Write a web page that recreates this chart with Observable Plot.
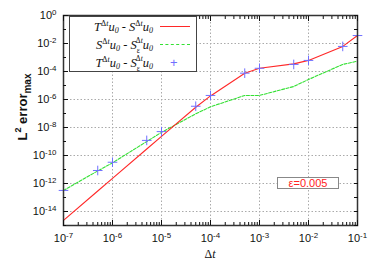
<!DOCTYPE html>
<html><head><meta charset="utf-8">
<script src="https://cdn.jsdelivr.net/npm/d3@7"></script>
<script src="https://cdn.jsdelivr.net/npm/@observablehq/plot@0.6"></script>
<style>
body{margin:0;background:#fff}
#wrap{position:relative;width:374px;height:262px;font-family:"Liberation Sans",Arial,sans-serif}
.ov{position:absolute;white-space:nowrap}
.leg{left:69px;top:16px;width:128px;height:56px;border:1px solid #444;background:#fff;box-sizing:border-box}
.row{position:absolute;right:43px;font-family:"Liberation Serif","Times New Roman",serif;font-style:italic;font-size:12.5px;line-height:12px;color:#111}
.sup{font-size:8px;position:relative;top:-5px}
.sub{font-size:8px;position:relative;top:2px}
.sup2{font-size:7.5px;position:relative;top:-6.5px;margin-left:-4px}
.sub2{font-size:7.5px;position:relative;top:3.5px;font-style:normal}
.up{font-style:normal}
.samp{position:absolute;left:90px;width:30px;height:0}
.eps{left:277px;top:177px;width:62px;height:12px;border:1px solid #888;box-sizing:border-box;background:#fff;color:#f22;font-size:11px;line-height:10px;text-align:center}
.ylab{left:22px;top:107px;transform:translate(-50%,-50%) rotate(-90deg);font-weight:bold;font-size:13px;color:#111}
.xlab{left:210px;top:254px;transform:translate(-50%,-50%);font-size:12px;color:#111;font-family:"Liberation Serif",serif}
</style>
</head><body>
<div id="wrap"></div>
<script>
// Δt values (x)
const dt = [1e-7, 5e-7, 1e-6, 5e-6, 1e-5, 5e-5, 1e-4, 5e-4, 1e-3, 5e-3, 1e-2, 5e-2, 1e-1];
// T^Δt u0 - S^Δt u0 (red)
const errTS = [2.3e-15, 2.9e-13, 2.3e-12, 2.9e-10, 2.3e-9, 2.8e-7, 1.8e-6, 7.6e-5, 1.7e-4, 3.5e-4, 6.2e-4, 6.2e-3, 3.7e-2];
// S^Δt u0 - S_ε^Δt u0 (green)
const errSS = [3.2e-13, 7.9e-12, 3.0e-11, 1.0e-9, 4.5e-9, 9.5e-8, 3.0e-7, 1.95e-6, 1.95e-6, 8.5e-6, 2.7e-5, 3.2e-4, 5.5e-4];
// T^Δt u0 - S_ε^Δt u0 (blue points)
const errTSe = [3.2e-13, 8.5e-12, 3.3e-11, 1.2e-9, 5.1e-9, 3.3e-7, 1.95e-6, 7.6e-5, 1.7e-4, 3.2e-4, 6.2e-4, 6.2e-3, 3.7e-2];

const xTicks = [1e-7, 1e-6, 1e-5, 1e-4, 1e-3, 1e-2, 1e-1];
const yTicks = [1e-14, 1e-12, 1e-10, 1e-8, 1e-6, 1e-4, 1e-2, 1];
const yDecades = d3.range(-15, 1).map(e => Math.pow(10, e));
const xMinor = d3.range(-7, -1).flatMap(e => [2,3,4,5,6,7,8,9].map(m => m * Math.pow(10, e)));

const fmt = d => `10^${Math.round(Math.log10(d))}`;
const blank = () => "";

const red = dt.map((x, i) => ({x, y: errTS[i]}));
const green = dt.map((x, i) => ({x, y: errSS[i]}));
const blue = dt.map((x, i) => ({x, y: errTSe[i]}));

const svg = Plot.plot({
  width: 374, height: 262,
  marginLeft: 63, marginRight: 17, marginTop: 15, marginBottom: 37,
  style: {fontFamily: "'Liberation Sans', Arial, sans-serif", fontSize: "11px", color: "#111", background: "#fff"},
  x: {type: "log", domain: [1e-7, 1e-1]},
  y: {type: "log", domain: [1e-15, 1]},
  marks: [
    Plot.gridX(xTicks, {stroke: "#aaa", strokeOpacity: 1, strokeDasharray: "1.5,2"}),
    Plot.gridY(yTicks, {stroke: "#aaa", strokeOpacity: 1, strokeDasharray: "1.5,2"}),
    Plot.line(green, {x: "x", y: "y", stroke: "#33e033", strokeWidth: 1.1, strokeDasharray: "3,1.5"}),
    Plot.line(red, {x: "x", y: "y", stroke: "#ff2828", strokeWidth: 1.1}),
    Plot.dot(blue, {x: "x", y: "y", symbol: "plus", r: 3.2, stroke: "#7070ff", strokeWidth: 1}),
    Plot.frame({stroke: "#333", strokeWidth: 1.5}),
    Plot.axisX(xTicks, {anchor: "bottom", tickSize: -5, tickPadding: 14, tickFormat: fmt, label: null, fontSize: 11}),
    Plot.axisX(xMinor, {anchor: "bottom", tickSize: -3, tickFormat: blank, label: null}),
    Plot.axisX(xTicks, {anchor: "top", tickSize: -5, tickFormat: blank, label: null}),
    Plot.axisX(xMinor, {anchor: "top", tickSize: -3, tickFormat: blank, label: null}),
    Plot.axisY(yTicks, {anchor: "left", tickSize: -5, tickPadding: 12, tickFormat: fmt, label: null, fontSize: 11}),
    Plot.axisY(yDecades, {anchor: "left", tickSize: -3, tickFormat: blank, label: null}),
    Plot.axisY(yDecades, {anchor: "right", tickSize: -4, tickFormat: blank, label: null})
  ]
});

// superscript exponents in tick labels
d3.select(svg).selectAll("text").each(function() {
  const m = /^10\^(-?\d+)$/.exec(this.textContent);
  if (m) {
    const s = d3.select(this);
    s.text("10");
    s.append("tspan").attr("dy", "-0.5em").attr("font-size", "0.72em").text(m[1]);
  }
});

const wrap = document.getElementById("wrap");
wrap.appendChild(svg);
wrap.insertAdjacentHTML("beforeend", `
<div class="ov leg">
  <div class="row" style="top:4px">T<span class="sup"><span class="up">Δ</span>t</span>u<span class="sub">0</span> - S<span class="sup"><span class="up">Δ</span>t</span>u<span class="sub">0</span></div>
  <div class="samp" style="top:9px;border-top:1.2px solid #ff2828"></div>
  <div class="row" style="top:22px">S<span class="sup"><span class="up">Δ</span>t</span>u<span class="sub">0</span> - S<span class="sub2">ε</span><span class="sup2"><span class="up">Δ</span>t</span>u<span class="sub">0</span></div>
  <div class="samp" style="top:27px;border-top:1.2px dashed #33e033"></div>
  <div class="row" style="top:40px">T<span class="sup"><span class="up">Δ</span>t</span>u<span class="sub">0</span> - S<span class="sub2">ε</span><span class="sup2"><span class="up">Δ</span>t</span>u<span class="sub">0</span></div>
  <div class="ov" style="left:100px;top:39px;color:#7070ff;font-size:13px;line-height:13px">+</div>
</div>
<div class="ov eps">ε=0.005</div>
<div class="ov ylab">L<span style="font-size:9px;position:relative;top:-6px">2</span> error<span style="font-size:10px;position:relative;top:4px">max</span></div>
<div class="ov xlab"><span>Δ</span><i>t</i></div>
`);
</script>
</body></html>
